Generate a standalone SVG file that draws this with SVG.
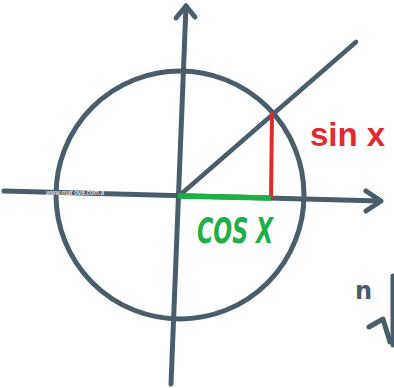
<svg xmlns="http://www.w3.org/2000/svg" width="394" height="388" viewBox="0 0 394 388">
<style>
.ax{fill:none;stroke:#4a5d6a;stroke-width:5;stroke-linecap:round;stroke-linejoin:round}
.thin{fill:none;stroke:#4a5d6a;stroke-width:4.5;stroke-linecap:round;stroke-linejoin:round}
</style>
<rect width="394" height="388" fill="#ffffff"/>
<g id="circle">
<ellipse cx="180" cy="195" rx="124" ry="124" class="ax"/>
</g>
<g id="connectors">
<path class="ax" d="M4 191 L380 201"/>
<path class="ax" d="M366 191 L381 201 L366 211"/>
<path class="ax" d="M186 6 L171 384"/>
<path class="ax" d="M176 18 L186 6 L195 17"/>
<path class="thin" d="M180 195 L356 42"/>
<path fill="none" stroke="#e12a30" stroke-width="4" stroke-linecap="round" d="M272 114 L271 198"/>
<path fill="none" stroke="#1fae48" stroke-width="5.5" stroke-linecap="butt" d="M178 196 L271 198"/>
</g>
<g id="watermark">
<text x="46" y="195" font-family="Liberation Sans, sans-serif" font-size="6.5" font-style="italic" fill="#ffffff">www.mat  ova.com.a</text>
</g>
<g id="sin-label">
<text x="310" y="146" font-family="Liberation Sans, Arial, sans-serif" font-size="33" font-weight="bold" fill="#e12a30">sin x</text>
</g>
<g id="cos-label">
<text x="197" y="243" font-family="DejaVu Sans, sans-serif" font-size="36" font-weight="bold" font-style="italic" fill="#1fae48" textLength="76" lengthAdjust="spacingAndGlyphs">COS X</text>
</g>
<g id="fragment">
<text x="355" y="299" font-family="DejaVu Sans, sans-serif" font-size="24" font-weight="bold" fill="#4a5d6a">n</text>
<path class="ax" d="M369 327 L383 319 L390 342"/>
<path class="ax" d="M393 276 L393 345"/>
</g>
</svg>
